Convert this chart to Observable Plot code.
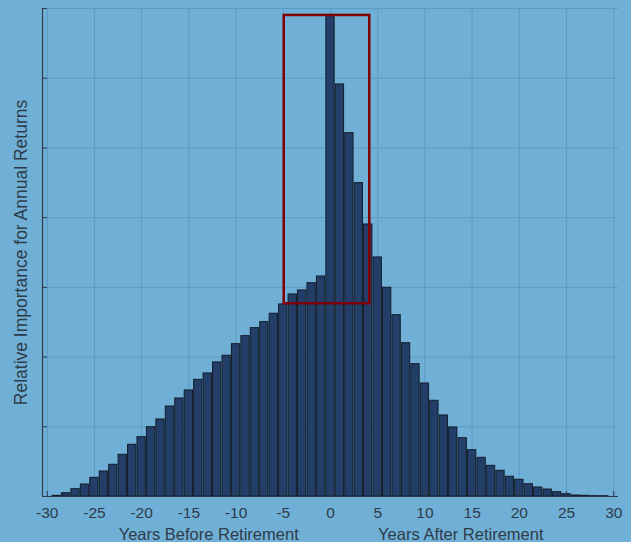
<!DOCTYPE html>
<html>
<head>
<meta charset="utf-8">
<script src="https://cdn.jsdelivr.net/npm/d3@7"></script>
<script src="https://cdn.jsdelivr.net/npm/@observablehq/plot@0.6"></script>
<style>
  html, body { margin: 0; padding: 0; background: #70b0d6; }
  #chart svg { display: block; }
</style>
</head>
<body>
<div id="chart"></div>
<script>
// Years relative to retirement
const years = d3.range(-29, 30);
// Relative importance (arbitrary units, one gridline = 1)
const importance = [
  0.01, 0.047, 0.105, 0.172, 0.268, 0.359, 0.455, 0.598, 0.742, 0.851,
  0.994, 1.105, 1.291, 1.406, 1.521, 1.674, 1.765, 1.923, 2.019, 2.185,
  2.300, 2.415, 2.501, 2.621, 2.755, 2.898, 2.956, 3.060, 3.156,
  6.901,
  5.911, 5.212, 4.495, 3.902, 3.429, 2.994, 2.601, 2.199, 1.898, 1.621,
  1.373, 1.162, 0.990, 0.836, 0.664, 0.555, 0.440, 0.369, 0.283, 0.240,
  0.176, 0.129, 0.100, 0.062, 0.033, 0.014, 0.010, 0.005, 0.004
];
const xTicks = [-30, -25, -20, -15, -10, -5, 0, 5, 10, 15, 20, 25, 30];
const xTickLabels = ["-30", "-25", "-20", "-15", "-10", "-5", "0", "5", "10", "15", "20", "25", "30"];
const yTicks = [0, 1, 2, 3, 4, 5, 6, 7];
const xLabels = ["Years Before Retirement", "Years After Retirement"];
const xLabelPos = [-12.9, 13.8];
const yLabel = "Relative Importance for Annual Returns";
// highlight box: years -4.9..4.16, importance 2.765..6.9
const box = [{x1: -4.9, x2: 4.16, y1: 2.765, y2: 6.9}];

const data = years.map((y, i) => ({year: y, value: importance[i]}));
const barHalf = 0.44;

const ink = "#2e3b49";
const grid = "#5d9cc2";

const chart = Plot.plot({
  width: 631,
  height: 542,
  marginLeft: 42,
  marginRight: 13,
  marginTop: 8,
  marginBottom: 46,
  style: {background: "#70b0d6", fontFamily: "'Liberation Sans', Arial, sans-serif", color: ink},
  x: {domain: [-30.5, 30.5]},
  y: {domain: [0, 7]},
  marks: [
    Plot.ruleX(xTicks, {stroke: grid, strokeWidth: 1}),
    Plot.ruleY(yTicks.filter(d => d > 0), {stroke: grid, strokeWidth: 1}),
    Plot.rectY(data, {
      x1: d => d.year - barHalf,
      x2: d => d.year + barHalf,
      y: "value",
      fill: "#233f69",
      stroke: "#131c28",
      strokeWidth: 1
    }),
    Plot.rect(box, {x1: "x1", x2: "x2", y1: "y1", y2: "y2", fill: "none", stroke: "#800000", strokeWidth: 2.5}),
    Plot.axisX(xTicks, {
      tickSize: -5, tickPadding: 15, fontSize: 15.5, stroke: ink, color: ink, label: null,
      tickFormat: d => xTickLabels[xTicks.indexOf(d)]
    }),
    Plot.axisY(yTicks, {tickSize: -5, tickFormat: () => "", stroke: ink, label: null}),
    Plot.ruleX([-30.5], {stroke: ink, strokeWidth: 1.2}),
    Plot.ruleY([0], {stroke: ink, strokeWidth: 1.2}),
    Plot.text(xLabels, {
      x: (d, i) => xLabelPos[i], y: 0, dy: 38, text: d => d,
      fontSize: 16.5, fill: ink, lineAnchor: "middle"
    }),
    Plot.text([yLabel], {
      frameAnchor: "left", dx: -21, rotate: -90, textAnchor: "middle", text: d => d,
      fontSize: 17.5, fill: ink
    })
  ]
});
document.getElementById("chart").appendChild(chart);
</script>
</body>
</html>
